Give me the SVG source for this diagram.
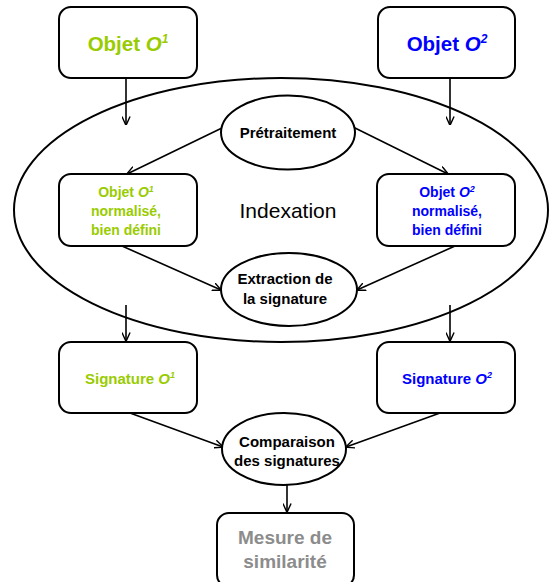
<svg xmlns="http://www.w3.org/2000/svg" width="549" height="582" viewBox="0 0 549 582">
<defs>
<marker id="ah" viewBox="0 0 10 10" refX="9.5" refY="5" markerWidth="9" markerHeight="9" markerUnits="userSpaceOnUse" orient="auto">
<path d="M0,0.5 L10,5 L0,9.5" fill="none" stroke="#000" stroke-width="1.6"/>
</marker>
</defs>
<style>
.box{fill:#fff;stroke:#000;stroke-width:2}
.ell{fill:#fff;stroke:#000;stroke-width:2}
.big{fill:none;stroke:#000;stroke-width:2}
.t{font-family:"Liberation Sans",Arial,sans-serif;font-weight:bold;text-anchor:middle}
.g{fill:#99cc00}
.b{fill:#0000ff}
.k{fill:#000}
.c line{stroke:#000;stroke-width:1.6;marker-end:url(#ah)}
</style>
<g id="indexation">
<ellipse class="big" cx="281" cy="210" rx="267" ry="132"/>
<text class="t k" x="288" y="218" font-size="21" style="font-weight:normal">Indexation</text>
</g>
<g class="c" id="connectors">
<line x1="126" y1="78" x2="126" y2="125"/>
<line x1="450" y1="78" x2="450" y2="125"/>
<line x1="224" y1="127" x2="127" y2="174"/>
<line x1="353" y1="127" x2="448" y2="174"/>
<line x1="122" y1="246" x2="221" y2="290"/>
<line x1="455" y1="246" x2="357" y2="290"/>
<line x1="126" y1="305" x2="126" y2="341"/>
<line x1="450" y1="305" x2="450" y2="341"/>
<line x1="130" y1="413" x2="223" y2="447"/>
<line x1="440" y1="413" x2="346" y2="447"/>
<line x1="287" y1="485" x2="287" y2="512"/>
</g>
<g id="objet1">
<rect class="box" x="59" y="7" width="138" height="71" rx="12"/>
<text class="t g" x="128" y="51" font-size="20.5">Objet <tspan font-style="italic">O<tspan font-size="12" dy="-8">1</tspan></tspan></text>
</g>
<g id="objet2">
<rect class="box" x="378" y="7" width="137" height="71" rx="12"/>
<text class="t b" x="447" y="51" font-size="20.5">Objet <tspan font-style="italic">O<tspan font-size="12" dy="-8">2</tspan></tspan></text>
</g>
<g id="pretraitement">
<ellipse class="ell" cx="288" cy="132.5" rx="67" ry="37"/>
<text class="t k" x="288" y="138" font-size="15">Prétraitement</text>
</g>
<g id="norm1">
<rect class="box" x="59" y="174" width="138" height="72" rx="12"/>
<text class="t g" font-size="14"><tspan x="126" y="197">Objet <tspan font-style="italic">O<tspan font-size="9" dy="-5">1</tspan></tspan></tspan><tspan x="126" y="216">normalisé,</tspan><tspan x="126" y="235">bien défini</tspan></text>
</g>
<g id="norm2">
<rect class="box" x="377" y="174" width="138" height="72" rx="12"/>
<text class="t b" font-size="14"><tspan x="447" y="197">Objet <tspan font-style="italic">O<tspan font-size="9" dy="-5">2</tspan></tspan></tspan><tspan x="447" y="216">normalisé,</tspan><tspan x="447" y="235">bien défini</tspan></text>
</g>
<g id="extraction">
<ellipse class="ell" cx="289" cy="289.5" rx="68" ry="36.5"/>
<text class="t k" font-size="15"><tspan x="285" y="284">Extraction de</tspan><tspan x="285" y="304">la signature</tspan></text>
</g>
<g id="sig1">
<rect class="box" x="59" y="342" width="138" height="71" rx="12"/>
<text class="t g" x="130" y="384" font-size="15">Signature <tspan font-style="italic">O<tspan font-size="9" dy="-6">1</tspan></tspan></text>
</g>
<g id="sig2">
<rect class="box" x="377" y="342" width="138" height="71" rx="12"/>
<text class="t b" x="447" y="384" font-size="15">Signature <tspan font-style="italic">O<tspan font-size="9" dy="-6">2</tspan></tspan></text>
</g>
<g id="comparaison">
<ellipse class="ell" cx="284" cy="449" rx="62" ry="36"/>
<text class="t k" font-size="15"><tspan x="287" y="447">Comparaison</tspan><tspan x="287" y="466">des signatures</tspan></text>
</g>
<g id="mesure">
<rect class="box" x="217" y="513" width="137" height="74" rx="12"/>
<text class="t" fill="#8c8c8c" font-size="19"><tspan x="285" y="544">Mesure de</tspan><tspan x="285" y="568">similarité</tspan></text>
</g>
</svg>
